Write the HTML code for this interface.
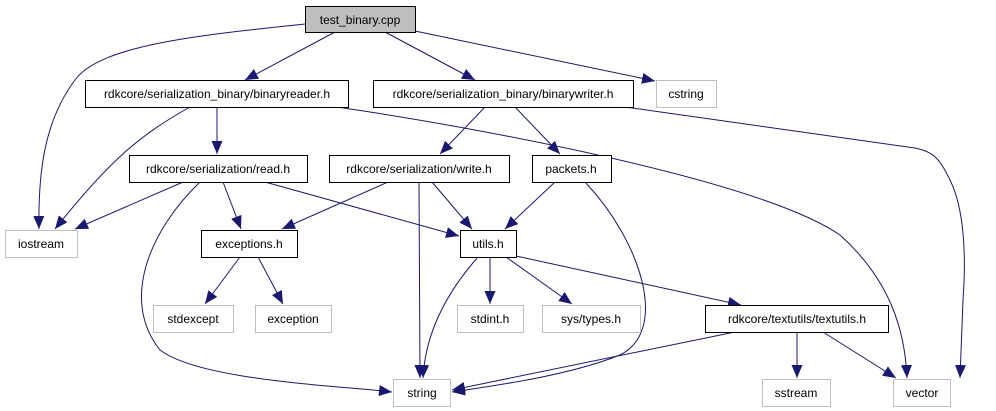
<!DOCTYPE html>
<html><head><meta charset="utf-8"><style>
body{margin:0;background:#fff;width:996px;height:411px;overflow:hidden}
svg{display:block}
text{font-family:"Liberation Sans",sans-serif;font-size:12px;fill:#000}
</style></head><body>
<svg width="996" height="411" viewBox="0 0 996 411" xmlns="http://www.w3.org/2000/svg">
<defs><marker id="a" markerUnits="userSpaceOnUse" markerWidth="14" markerHeight="12" refX="13" refY="6" orient="auto"><path d="M0,0.5 L13,6 L0,11.5 Z" fill="#191970"/></marker></defs>
<g fill="none" stroke="#191970" stroke-width="1" marker-end="url(#a)">
<path d="M305,24 C200,35 100,45 75,80 C45,120 38,170 39,229"/>
<path d="M335,32 L245,80"/>
<path d="M385,32 L475,80"/>
<path d="M415,31 L655,81"/>
<path d="M190,107 C140,135 110,160 55,229"/>
<path d="M217,107 L217,154"/>
<path d="M337,107 C480,128 760,180 840,235 C890,280 905,330 907,378"/>
<path d="M485,107 L440,154"/>
<path d="M515,107 L560,154"/>
<path d="M625,107 L915,148 C935,152 940,160 950,180 C965,210 966,260 963,300 L960,378"/>
<path d="M183,182 L75,229"/>
<path d="M223,182 L241,229"/>
<path d="M265,182 L459,236"/>
<path d="M200,182 C150,230 120,300 160,350 C200,380 330,385 392,392"/>
<path d="M388,182 L282,229"/>
<path d="M419,182 L420,378"/>
<path d="M432,182 L472,229"/>
<path d="M555,182 L505,229"/>
<path d="M585,182 C640,240 670,330 620,355 C570,375 500,385 452,392"/>
<path d="M478,257 C440,300 425,340 423,378"/>
<path d="M490,257 L490,304"/>
<path d="M506,257 L572,304"/>
<path d="M516,256 L741,305"/>
<path d="M735,332 L452,390"/>
<path d="M797,332 L797,378"/>
<path d="M823,332 L896,378"/>
<path d="M240,257 L205,304"/>
<path d="M258,257 L283,304"/>
</g>
<g stroke-width="1">
<rect x="305.5" y="6.5" width="110" height="26" fill="#bfbfbf" stroke="#000"/>
<rect x="85.5" y="80.5" width="263" height="27" fill="#fff" stroke="#000"/>
<rect x="373.5" y="80.5" width="260" height="27" fill="#fff" stroke="#000"/>
<rect x="656.5" y="80.5" width="60" height="27" fill="#fff" stroke="#bfbfbf"/>
<rect x="129.5" y="155.5" width="178" height="27" fill="#fff" stroke="#000"/>
<rect x="329.5" y="155.5" width="180" height="27" fill="#fff" stroke="#000"/>
<rect x="532.5" y="155.5" width="79" height="27" fill="#fff" stroke="#000"/>
<rect x="5.5" y="230.5" width="72" height="27" fill="#fff" stroke="#bfbfbf"/>
<rect x="201.5" y="230.5" width="96" height="27" fill="#fff" stroke="#000"/>
<rect x="460.5" y="230.5" width="56" height="27" fill="#fff" stroke="#000"/>
<rect x="153.5" y="305.5" width="80" height="27" fill="#fff" stroke="#bfbfbf"/>
<rect x="255.5" y="305.5" width="76" height="27" fill="#fff" stroke="#bfbfbf"/>
<rect x="457.5" y="305.5" width="66" height="27" fill="#fff" stroke="#bfbfbf"/>
<rect x="542.5" y="305.5" width="98" height="27" fill="#fff" stroke="#bfbfbf"/>
<rect x="705.5" y="305.5" width="183" height="27" fill="#fff" stroke="#000"/>
<rect x="393.5" y="379.5" width="57" height="27" fill="#fff" stroke="#bfbfbf"/>
<rect x="762.5" y="379.5" width="68" height="27" fill="#fff" stroke="#bfbfbf"/>
<rect x="893.5" y="379.5" width="57" height="27" fill="#fff" stroke="#bfbfbf"/>
</g>
<g text-anchor="middle">
<text x="360" y="24">test_binary.cpp</text>
<text x="217" y="98">rdkcore/serialization_binary/binaryreader.h</text>
<text x="503" y="98">rdkcore/serialization_binary/binarywriter.h</text>
<text x="686" y="98">cstring</text>
<text x="218" y="173">rdkcore/serialization/read.h</text>
<text x="419" y="173">rdkcore/serialization/write.h</text>
<text x="571" y="173">packets.h</text>
<text x="41" y="248">iostream</text>
<text x="249" y="248">exceptions.h</text>
<text x="488" y="248">utils.h</text>
<text x="193" y="323">stdexcept</text>
<text x="293" y="323">exception</text>
<text x="490" y="323">stdint.h</text>
<text x="591" y="323">sys/types.h</text>
<text x="797" y="323">rdkcore/textutils/textutils.h</text>
<text x="422" y="397">string</text>
<text x="796" y="397">sstream</text>
<text x="922" y="397">vector</text>
</g>
</svg>
</body></html>
